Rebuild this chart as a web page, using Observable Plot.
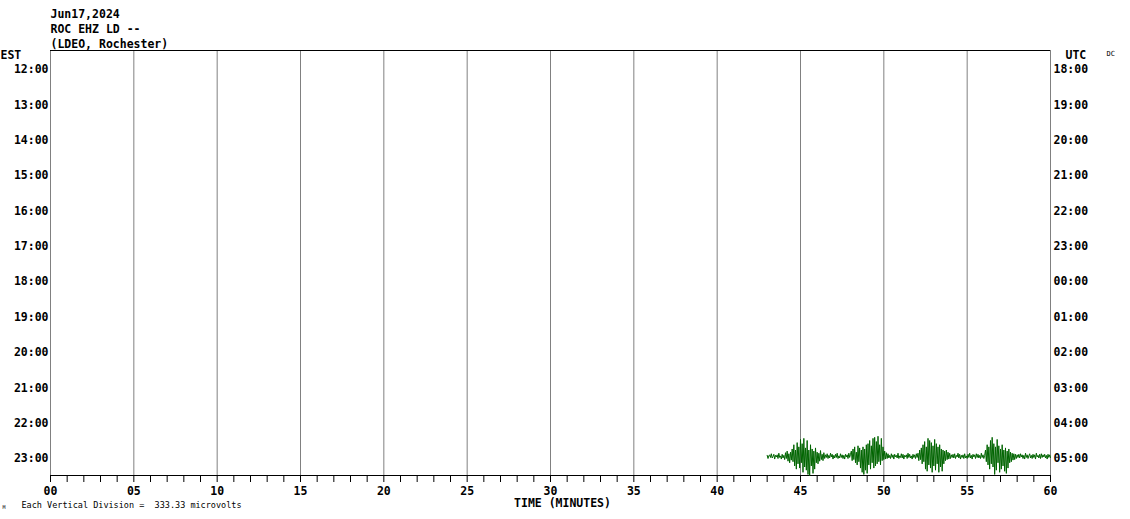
<!DOCTYPE html>
<html>
<head>
<meta charset="utf-8">
<script src="https://cdn.jsdelivr.net/npm/d3@7"></script>
<script src="https://cdn.jsdelivr.net/npm/@observablehq/plot@0.6"></script>
<style>
  html, body { margin: 0; padding: 0; background: #fff; }
</style>
</head>
<body>
<div id="chart"></div>
<script>
const titleLines = ["Jun17,2024", "ROC EHZ LD --", "(LDEO, Rochester)"];
const estLabels = ["12:00","13:00","14:00","15:00","16:00","17:00","18:00","19:00","20:00","21:00","22:00","23:00"];
const utcLabels = ["18:00","19:00","20:00","21:00","22:00","23:00","00:00","01:00","02:00","03:00","04:00","05:00"];
const rows = d3.range(0, 12);
const minuteTicks = d3.range(0, 61);
const gridMinutes = [0, 5, 10, 15, 20, 25, 30, 35, 40, 45, 50, 55, 60];
const rowTop = -0.54;
const rowBottom = 11.48;
const uvPerDivision = 333.33;
const traceRow = 11;          // 23:00 EST line
const traceStart = 43.0;      // minutes
const traceStep = 0.05;       // minutes between samples
const dcOffsetUV = 20;
// amplitude in microvolts (up positive)
const traceUV = [
  10,-20,5,15,-10,25,-15,0,20,-25,10,-5,15,-20,30,-10,5,-25,20,-15,10,
  -30,35,-20,50,-45,25,-60,40,-35,
  70,-50,110,-90,60,-120,130,-70,90,-110,
  160,-60,120,-150,170,-100,80,-130,150,-170,60,-180,110,-90,70,-160,50,-120,80,-60,
  40,-70,30,-45,55,-30,20,-40,35,-20,
  15,-10,25,-20,10,-15,30,-5,20,-25,10,-15,20,-10,30,-20,5,-15,25,-10,15,-20,10,-25,20,-5,15,-20,30,-10,20,
  50,-40,70,-30,90,-60,40,-80,100,-50,
  80,-110,60,-150,90,-170,70,-130,110,-160,
  120,-80,150,-120,100,-60,170,-110,180,-90,
  140,-70,190,-50,110,-80,170,-40,90,-30,
  50,-25,35,-20,25,-15,
  10,-20,25,-10,15,-25,20,-5,10,-15,30,-20,5,-10,25,-15,20,-25,10,-5,15,-20,30,-10,20,-15,5,-25,20,-10,15,-20,25,-10,30,
  -40,60,-30,80,-70,110,-50,140,-120,90,
  -140,170,-80,150,-110,130,-150,100,-90,160,
  -130,120,-70,90,-150,110,-100,70,-140,60,
  -70,50,-40,60,-30,40,-25,30,-20,
  15,-10,20,-15,25,-20,10,-5,30,-15,20,-25,10,-10,15,-20,25,-15,5,-20,20,-10,30,-15,10,-25,20,-5,15,-20,25,-10,20,-15,10,-20,30,-10,15,-20,10,
  60,-50,110,-80,90,-120,150,-70,180,-100,
  120,-170,90,-130,160,-60,100,-150,70,-120,
  110,-90,60,-140,80,-160,50,-110,70,-60,
  40,-50,30,-35,25,-30,20,-20,15,
  -10,20,-15,25,-5,15,-20,10,-25,30,-10,15,-20,5,25,-15,10,-20,20,-10,15,-25,30,-5,10,-15,20,-20,25,-10,15,-5,20,-15,10,-25,20,-10,15,-10
];

const trace = traceUV.map((v, i) => ({
  t: traceStart + i * traceStep,
  row: traceRow - (v + dcOffsetUV) / uvPerDivision
}));

const FONT = "DejaVu Sans Mono";

const chart = Plot.plot({
  width: 1130,
  height: 519,
  marginTop: 50,
  marginBottom: 44,
  marginLeft: 50,
  marginRight: 80,
  style: { fontFamily: FONT, fontSize: "11.5px", fontWeight: "bold", background: "white", color: "black", overflow: "visible" },
  x: { domain: [0, 60] },
  y: { domain: [rowTop, rowBottom], reverse: true },
  marks: [
    Plot.ruleX(gridMinutes, { y1: rowTop, y2: rowBottom, stroke: "#808080", strokeWidth: 1 }),
    Plot.ruleY([rowTop], { x1: 0, x2: 60, stroke: "black" }),
    Plot.ruleY([rowBottom], { x1: 0, x2: 60, stroke: "black" }),
    Plot.line(trace, { x: "t", y: "row", stroke: "#006400", strokeWidth: 1 }),
    Plot.axisX({
      ticks: minuteTicks,
      tickSize: 7,
      tickPadding: 4,
      tickFormat: d => d % 5 === 0 ? String(d).padStart(2, "0") : "",
      label: null,
      fontSize: 11.5
    }),
    Plot.axisY({
      anchor: "left",
      ticks: rows,
      tickSize: 0,
      tickPadding: 2,
      tickFormat: i => estLabels[i],
      label: null
    }),
    Plot.axisY({
      anchor: "right",
      ticks: rows,
      tickSize: 0,
      tickPadding: 3,
      tickFormat: i => utcLabels[i],
      label: null
    }),
    Plot.text([titleLines.join("\n")], {
      frameAnchor: "top-left", textAnchor: "start", lineAnchor: "top",
      dy: -43, lineHeight: 1.3, fontSize: 11.5
    }),
    Plot.text(["EST"], { frameAnchor: "top-left", textAnchor: "start", lineAnchor: "middle", dx: -50, dy: 5 }),
    Plot.text(["UTC"], { frameAnchor: "top-right", textAnchor: "start", lineAnchor: "middle", dx: 15, dy: 5 }),
    Plot.text(["DC"], { frameAnchor: "top-right", textAnchor: "start", lineAnchor: "middle", dx: 56, dy: 3, fontSize: 7, fontWeight: "normal", fill: "black" }),
    Plot.text(["TIME (MINUTES)"], { frameAnchor: "bottom", textAnchor: "middle", lineAnchor: "middle", dx: 12, dy: 28 }),
    Plot.text(["Each Vertical Division =\u00a0\u00a0333.33 microvolts"], {
      frameAnchor: "bottom-left", textAnchor: "start", lineAnchor: "middle",
      dx: -29, dy: 30, fontSize: 8.5, fontWeight: "normal"
    }),
    Plot.text(["M"], { frameAnchor: "bottom-left", textAnchor: "start", lineAnchor: "middle", dx: -48, dy: 32, fontSize: 5, fontWeight: "normal" })
  ]
});

document.getElementById("chart").appendChild(chart);
</script>
</body>
</html>
